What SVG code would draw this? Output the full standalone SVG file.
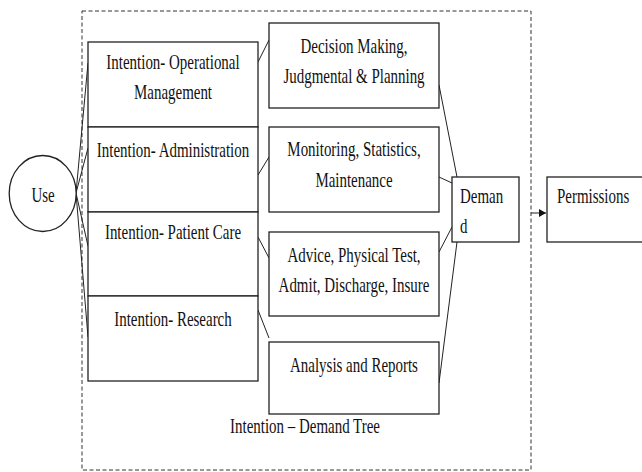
<svg xmlns="http://www.w3.org/2000/svg" width="642" height="472" viewBox="0 0 642 472">
<style>
.box{fill:#fff;stroke:#222;stroke-width:1.3}
.t{font-family:"Liberation Serif","Times New Roman",serif;font-size:22px;fill:#111;text-anchor:middle}
.ts{font-family:"Liberation Serif","Times New Roman",serif;font-size:22px;fill:#111;text-anchor:start}
.c{stroke:#222;stroke-width:1;fill:none}
.frame{fill:none;stroke:#333;stroke-width:1;stroke-dasharray:4,2.5}
</style>
<defs>
<marker id="arr" markerWidth="8" markerHeight="8" refX="7" refY="4" orient="auto" markerUnits="userSpaceOnUse">
<path d="M0,0 L7,4 L0,8 Z" fill="#111"/>
</marker>
</defs>
<rect width="642" height="472" fill="#fff"/>
<rect id="frame" class="frame" x="82" y="11" width="449" height="459"/>

<g id="connectors">
<line class="c" x1="76" y1="193" x2="88" y2="63"/>
<line class="c" x1="76" y1="193" x2="88" y2="148"/>
<line class="c" x1="76" y1="193" x2="88" y2="246"/>
<line class="c" x1="76" y1="193" x2="88" y2="337"/>
<line class="c" x1="258" y1="62" x2="269" y2="40"/>
<line class="c" x1="258" y1="175" x2="269" y2="157"/>
<line class="c" x1="258" y1="237" x2="269" y2="258"/>
<line class="c" x1="258" y1="310" x2="269" y2="338"/>
<line class="c" x1="439" y1="85" x2="457" y2="177"/>
<line class="c" x1="439" y1="177" x2="452" y2="183"/>
<line class="c" x1="439" y1="252" x2="452" y2="227"/>
<line class="c" x1="439" y1="383" x2="457" y2="242"/>
<line class="c" x1="531" y1="213" x2="546" y2="213" marker-end="url(#arr)" stroke-width="1.3"/>
</g>

<g id="use">
<ellipse cx="42.7" cy="193.5" rx="33.5" ry="38" fill="#fff" stroke="#222" stroke-width="1.3"/>
<text class="t" transform="translate(43,202) scale(0.68,1)">Use</text>
</g>

<g id="int-operational">
<rect class="box" x="88" y="42" width="170" height="85"/>
<text class="t" transform="translate(173,69) scale(0.68,1)">Intention- Operational</text>
<text class="t" transform="translate(173,99) scale(0.68,1)">Management</text>
</g>
<g id="int-administration">
<rect class="box" x="88" y="127" width="170" height="85"/>
<text class="t" transform="translate(173,157) scale(0.68,1)">Intention- Administration</text>
</g>
<g id="int-patient">
<rect class="box" x="88" y="212" width="170" height="84"/>
<text class="t" transform="translate(173,239) scale(0.68,1)">Intention- Patient Care</text>
</g>
<g id="int-research">
<rect class="box" x="88" y="296" width="170" height="85"/>
<text class="t" transform="translate(173,326) scale(0.68,1)">Intention- Research</text>
</g>

<g id="decision">
<rect class="box" x="269" y="23" width="170" height="85"/>
<text class="t" transform="translate(354,53) scale(0.68,1)">Decision Making,</text>
<text class="t" transform="translate(354,83) scale(0.68,1)">Judgmental &amp; Planning</text>
</g>
<g id="monitoring">
<rect class="box" x="269" y="127" width="170" height="85"/>
<text class="t" transform="translate(354,156) scale(0.68,1)">Monitoring, Statistics,</text>
<text class="t" transform="translate(354,187) scale(0.68,1)">Maintenance</text>
</g>
<g id="advice">
<rect class="box" x="269" y="232" width="170" height="84"/>
<text class="t" transform="translate(354,262) scale(0.68,1)">Advice, Physical Test,</text>
<text class="t" transform="translate(354,292) scale(0.68,1)">Admit, Discharge, Insure</text>
</g>
<g id="analysis">
<rect class="box" x="269" y="342" width="170" height="72"/>
<text class="t" transform="translate(354,372) scale(0.68,1)">Analysis and Reports</text>
</g>

<g id="demand">
<rect class="box" x="452" y="177" width="67" height="65"/>
<text class="ts" transform="translate(460,203) scale(0.68,1)">Deman</text>
<text class="ts" transform="translate(460,233) scale(0.68,1)">d</text>
</g>

<g id="permissions">
<rect class="box" x="547" y="177" width="100" height="65"/>
<text class="ts" transform="translate(557,203) scale(0.68,1)">Permissions</text>
</g>

<g id="caption">
<text class="t" transform="translate(305,433) scale(0.68,1)">Intention – Demand Tree</text>
</g>
</svg>
